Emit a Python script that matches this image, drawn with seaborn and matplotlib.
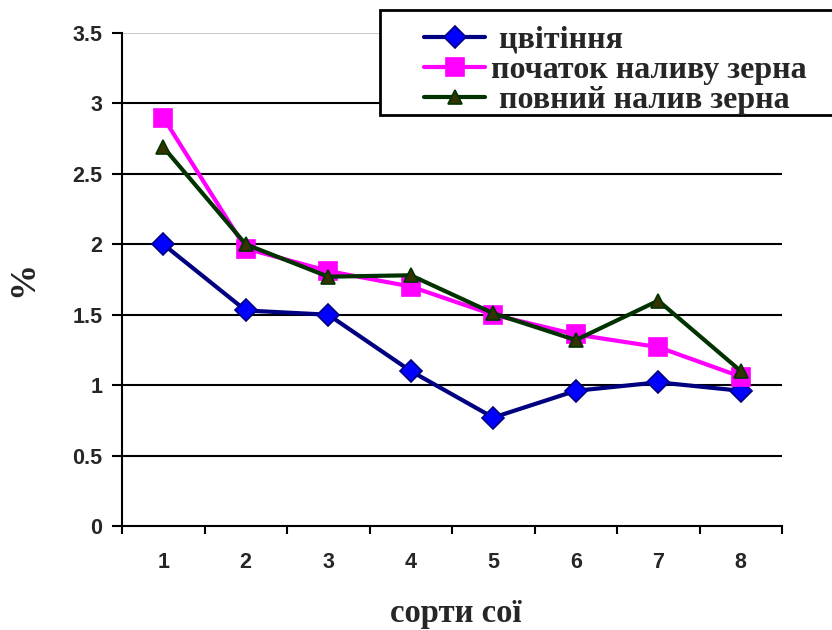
import matplotlib
matplotlib.use("Agg")
import matplotlib.pyplot as plt
import seaborn as sns
import pandas as pd
from matplotlib.lines import Line2D
from matplotlib.patches import Rectangle

varieties = [1, 2, 3, 4, 5, 6, 7, 8]
flowering = [2.00, 1.53, 1.50, 1.10, 0.77, 0.96, 1.02, 0.96]
grain_fill_start = [2.90, 1.97, 1.81, 1.70, 1.50, 1.36, 1.27, 1.06]
grain_fill_full = [2.69, 2.00, 1.77, 1.78, 1.51, 1.32, 1.60, 1.10]
series_names = ["цвітіння", "початок наливу зерна", "повний налив зерна"]
yticks = [0, 0.5, 1, 1.5, 2, 2.5, 3, 3.5]
ytick_labels = ["0", "0.5", "1", "1.5", "2", "2.5", "3", "3.5"]

sns.set_style("white")
plt.rcParams["font.family"] = ["Liberation Sans", "DejaVu Sans"]
serif = ["Liberation Serif", "DejaVu Serif"]

fig = plt.figure(figsize=(8.32, 6.30), dpi=100)
ax = fig.add_axes([122/832, 1-526/630, (782-122)/832, (526-33)/630])

styles = [
    dict(color="#000080", marker="D", markerfacecolor="#0000FF", markeredgecolor="#000080", markersize=11),
    dict(color="#FF00FF", marker="s", markerfacecolor="#FF00FF", markeredgecolor="#FF00FF", markersize=13.5),
    dict(color="#003300", marker="^", markerfacecolor="#333300", markeredgecolor="#003300", markersize=10.5),
]
data = [flowering, grain_fill_start, grain_fill_full]

for yv in yticks[1:]:
    ax.axhline(yv, color="#CCCCCC" if yv == 3.5 else "black", linewidth=1.5, zorder=0)

for name, vals, st in zip(series_names, data, styles):
    df = pd.DataFrame({"x": varieties, "y": vals})
    sns.lineplot(data=df, x="x", y="y", ax=ax, linewidth=3, markeredgewidth=1.2, zorder=3, **st)

ax.set_xlim(0.5, 8.5)
ax.set_ylim(0, 3.5)
ax.set_yticks(yticks)
ax.set_yticklabels(ytick_labels, fontsize=15.5, fontweight="bold")
ax.set_xticks(varieties)
ax.set_xticklabels([str(v) for v in varieties], fontsize=15.5, fontweight="bold")
ax.set_xticks([v + 0.5 for v in [0] + varieties], minor=True)
ax.tick_params(axis="x", which="major", length=0, pad=19)
ax.tick_params(axis="x", which="minor", length=6, width=1.5, direction="out", color="black", bottom=True)
ax.tick_params(axis="y", length=7, width=1.5, direction="out", color="black", left=True, pad=7)
ax.grid(False)
for s in ["top", "right"]:
    ax.spines[s].set_visible(False)
for s in ["left", "bottom"]:
    ax.spines[s].set_color("black")
    ax.spines[s].set_linewidth(1.5)

ax.set_xlabel("сорти сої", fontsize=23.5, fontweight="bold", family=serif)
ax.xaxis.set_label_coords((456-122)/660, (526-622)/493)
ax.xaxis.label.set_verticalalignment("baseline")
ax.set_ylabel("%", fontsize=26, fontweight="bold", family=serif)
ax.yaxis.set_label_coords((40-122)/660, (526-279)/493)

fig.patches.append(Rectangle((380/832, 1-115/630), 470/832, 105/630, transform=fig.transFigure,
                             facecolor="white", edgecolor="black", linewidth=2, zorder=5))
handles = [Line2D([], [], linewidth=3, markeredgewidth=1.2, **st) for st in styles]
labels = [" " + series_names[0], series_names[1], " " + series_names[2]]
leg = fig.legend(handles, labels, loc="upper left", bbox_to_anchor=(418/832, 1-19/630),
                 frameon=False,
                 prop={"family": serif, "weight": "bold", "size": 23},
                 handlelength=1.9, handletextpad=0.2, labelspacing=0.02, borderpad=0.2, borderaxespad=0)
leg.set_zorder(6)

fig.savefig("out.png", dpi=100)
